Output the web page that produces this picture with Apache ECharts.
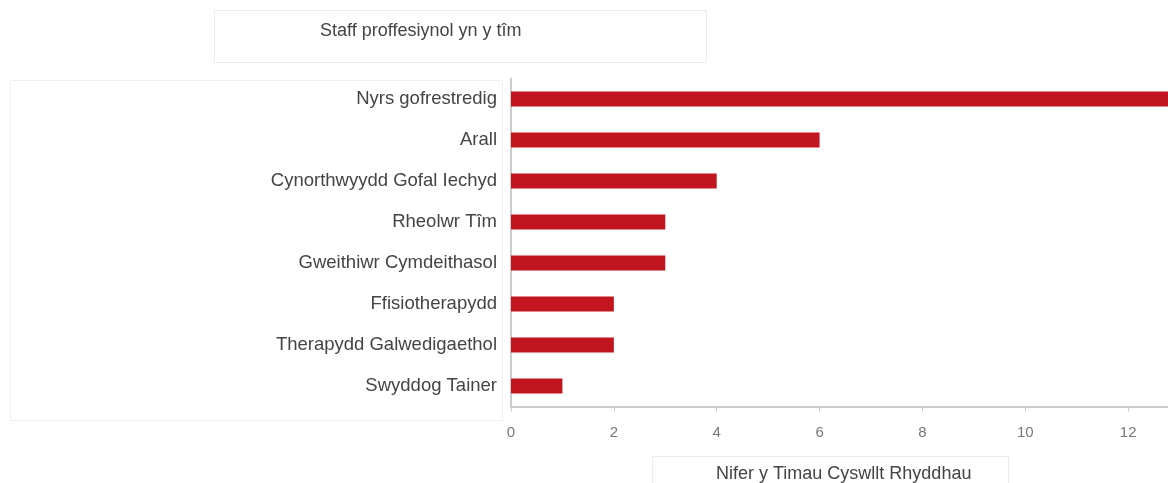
<!DOCTYPE html>
<html>
<head>
<meta charset="utf-8">
<script src="https://cdn.jsdelivr.net/npm/echarts@6/dist/echarts.min.js"></script>
<style>
html,body{margin:0;padding:0;background:#fff;}
#c{width:1168px;height:483px;}
</style>
</head>
<body>
<div id="c"></div>
<script>
const categories = ["Nyrs gofrestredig","Arall","Cynorthwyydd Gofal Iechyd","Rheolwr Tîm","Gweithiwr Cymdeithasol","Ffisiotherapydd","Therapydd Galwedigaethol","Swyddog Tainer"];
const values = [13, 6, 4, 3, 3, 2, 2, 1];
const chartTitle = "Staff proffesiynol yn y tîm";
const xAxisTitle = "Nifer y Timau Cyswllt Rhyddhau";

const chart = echarts.init(document.getElementById('c'));
const FONT = 'Liberation Sans, Arial, sans-serif';
chart.setOption({
  animation: false,
  graphic: [
    {type:'rect', shape:{x:214.5,y:10.5,width:492,height:52}, style:{fill:'#fff',stroke:'#ececec',lineWidth:1}, z:-1},
    {type:'rect', shape:{x:10.5,y:80.5,width:492,height:340}, style:{fill:'#fff',stroke:'#f0f0f0',lineWidth:1}, z:-1},
    {type:'rect', shape:{x:652.5,y:456.5,width:356,height:40}, style:{fill:'#fff',stroke:'#ececec',lineWidth:1}, z:-1}
  ],
  title: [
    {text: chartTitle, left: 315, top: 17, textStyle:{fontFamily:FONT,fontSize:18,fontWeight:'normal',color:'#444'}},
    {text: xAxisTitle, left: 711, top: 460, textStyle:{fontFamily:FONT,fontSize:18,fontWeight:'normal',color:'#444'}}
  ],
  grid: {left: 511, top: 78.5, right: -63, height: 328, containLabel: false, outerBoundsMode: 'none'},
  xAxis: {
    type: 'value', min: 0, max: 14, interval: 2,
    axisLine: {show: true, lineStyle: {color: '#cccccc', width: 2}},
    axisTick: {show: true, length: 5, lineStyle: {color: '#cccccc'}},
    splitLine: {show: false},
    axisLabel: {fontFamily: FONT, fontSize: 15, color: '#777', margin: 19}
  },
  yAxis: {
    type: 'category', data: categories, inverse: true,
    axisLine: {show: true, lineStyle: {color: '#cccccc', width: 2}},
    axisTick: {show: false},
    axisLabel: {fontFamily: FONT, fontSize: 18.5, color: '#444', margin: 14}
  },
  series: [{
    type: 'bar', data: values, barWidth: 15,
    itemStyle: {color: '#c1161f'}
  }]
});
</script>
</body>
</html>
